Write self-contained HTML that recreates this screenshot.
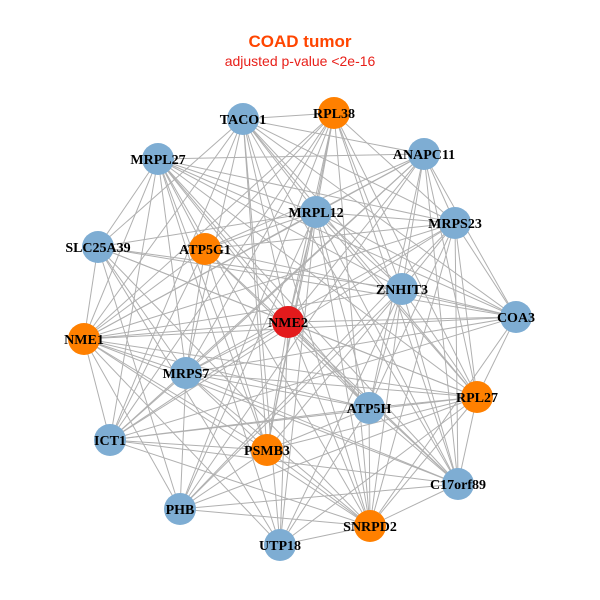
<!DOCTYPE html>
<html><head><meta charset="utf-8"><style>
html,body{margin:0;padding:0;background:#fff;}
svg{display:block}
</style></head><body>
<svg id="s" width="600" height="600" viewBox="0 0 600 600" xmlns="http://www.w3.org/2000/svg">
<text x="300" y="47" text-anchor="middle" font-family="Liberation Sans, sans-serif" font-weight="bold" font-size="17" fill="#FF4500">COAD tumor</text>
<text x="300" y="66" text-anchor="middle" font-family="Liberation Sans, sans-serif" font-size="14" fill="#E8201A">adjusted p-value &lt;2e-16</text>
<g id="e" stroke="#b0b0b0" stroke-width="1"></g>
<g id="n"></g>
</svg>
<script>
var N=[["TACO1",243,119,"b"],["RPL38",334,113,"o"],["ANAPC11",424,154,"b"],["MRPL27",158,159,"b"],["MRPL12",316,212,"b"],["MRPS23",455,223,"b"],["SLC25A39",98,247,"b"],["ATP5G1",205,249,"o"],["ZNHIT3",402,289,"b"],["COA3",516,317,"b"],["NME2",288,322,"r"],["NME1",84,339,"o"],["MRPS7",186,373,"b"],["RPL27",477,397,"o"],["ATP5H",369,408,"b"],["ICT1",110,440,"b"],["PSMB3",267,450,"o"],["C17orf89",458,484,"b"],["PHB",180,509,"b"],["SNRPD2",370,526,"o"],["UTP18",280,545,"b"]];
var C={b:"#7EADD3",o:"#FF8000",r:"#E31A1C"};
var ns="http://www.w3.org/2000/svg",e=document.getElementById("e"),g=document.getElementById("n");
var seed=7;function rnd(){seed=(seed*9301+49297)%233280;return seed/233280;}
for(var i=0;i<N.length;i++)for(var j=i+1;j<N.length;j++){if(rnd()<0.22)continue;
var l=document.createElementNS(ns,"line");l.setAttribute("x1",N[i][1]);l.setAttribute("y1",N[i][2]);l.setAttribute("x2",N[j][1]);l.setAttribute("y2",N[j][2]);e.appendChild(l);}
N.forEach(function(d){var c=document.createElementNS(ns,"circle");c.setAttribute("cx",d[1]);c.setAttribute("cy",d[2]);c.setAttribute("r",16);c.setAttribute("fill",C[d[3]]);g.appendChild(c);});
N.forEach(function(d){var t=document.createElementNS(ns,"text");t.setAttribute("x",d[1]);t.setAttribute("y",d[2]+5);t.setAttribute("text-anchor","middle");t.setAttribute("font-family","Liberation Serif, serif");t.setAttribute("font-weight","bold");t.setAttribute("font-size","14");t.textContent=d[0];g.appendChild(t);});
</script>
</body></html>
